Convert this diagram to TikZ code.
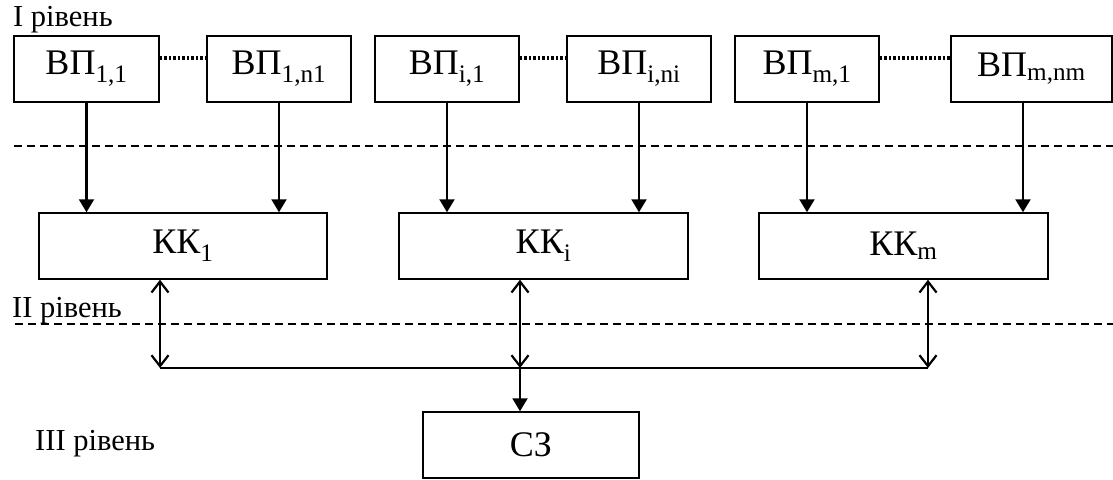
\documentclass[tikz,border=0pt]{standalone}
\usepackage{fontspec}
\setmainfont{Liberation Serif}
\usetikzlibrary{arrows.meta}
\tikzset{
  blok/.style={draw, line width=1.5pt, inner sep=0pt, minimum height=66pt,
    font=\fontsize{36}{38}\selectfont},
  riven/.style={anchor=base west, inner sep=0pt, font=\fontsize{30.5}{32}\selectfont},
  pil/.style={-{Triangle[length=13pt,width=15pt]}, line width=2.2pt},
  dvo/.style={{Straight Barb[length=11pt,width=17pt]}-{Straight Barb[length=11pt,width=17pt]}, line width=2.2pt},
  shina/.style={line width=1.6pt},
  shtrykh/.style={line width=1.6pt, dash pattern=on 8pt off 5pt},
  punkt/.style={line width=3.5pt, dash pattern=on 2.4pt off 2.1pt}
}
\begin{document}
\begin{tikzpicture}[x=1pt,y=-1pt]
\useasboundingbox (0,0) rectangle (1113,479);
    % I riven
    \node[riven] (r1) at (13,27) {I рівень};
    \node[blok,minimum width=145pt] (vp11) at (86.5,69) {ВП\textsubscript{1,1}};
    \node[blok,minimum width=144pt] (vp1n) at (279,69) {ВП\textsubscript{1,n1}};
    \node[blok,minimum width=144pt] (vpi1) at (447,69) {ВП\textsubscript{i,1}};
    \node[blok,minimum width=144pt] (vpin) at (639,69) {ВП\textsubscript{i,ni}};
    \node[blok,minimum width=144pt] (vpm1) at (807,69) {ВП\textsubscript{m,1}};
    \node[blok,minimum width=161pt] (vpmn) at (1031.5,69) {ВП\textsubscript{m,nm}};
    \draw[punkt] ([yshift=11pt]vp11.east) -- ([yshift=11pt]vp1n.west);
    \draw[punkt] ([yshift=11pt]vpi1.east) -- ([yshift=11pt]vpin.west);
    \draw[punkt] ([yshift=11pt]vpm1.east) -- ([yshift=11pt]vpmn.west);
    \draw[shtrykh] (14,146) -- (1113,146);
    % II riven
    \node[blok,minimum width=288pt] (kk1) at (183,246) {КК\textsubscript{1}};
    \node[blok,minimum width=289pt] (kki) at (543.5,246) {КК\textsubscript{i}};
    \node[blok,minimum width=289pt] (kkm) at (903.5,246) {КК\textsubscript{m}};
    \draw[pil] (vp11.south) -- (vp11.south |- kk1.north);
    \draw[pil] (vp1n.south) -- (vp1n.south |- kk1.north);
    \draw[pil] (vpi1.south) -- (vpi1.south |- kki.north);
    \draw[pil] (vpin.south) -- (vpin.south |- kki.north);
    \draw[pil] (vpm1.south) -- (vpm1.south |- kkm.north);
    \draw[pil] ([xshift=-8.5pt]vpmn.south) -- ([xshift=-8.5pt]vpmn.south |- kkm.north);
    \node[riven] (r2) at (12,317) {II рівень};
    \draw[shtrykh] (15,324) -- (1113,324);
    \coordinate (b1) at (160,368);
    \coordinate (bi) at (520,368);
    \coordinate (bm) at (928,368);
    \draw[dvo] (b1 |- kk1.south) -- (b1);
    \draw[dvo] (bi |- kki.south) -- (bi);
    \draw[dvo] (bm |- kkm.south) -- (bm);
    \draw[shina] (b1) -- (bm);
    % III riven
    \node[riven] (r3) at (35,450) {III рівень};
    \node[blok,minimum width=216pt] (sz) at (531,445) {СЗ};
    \draw[pil] (bi) -- (bi |- sz.north);
\end{tikzpicture}
\end{document}
